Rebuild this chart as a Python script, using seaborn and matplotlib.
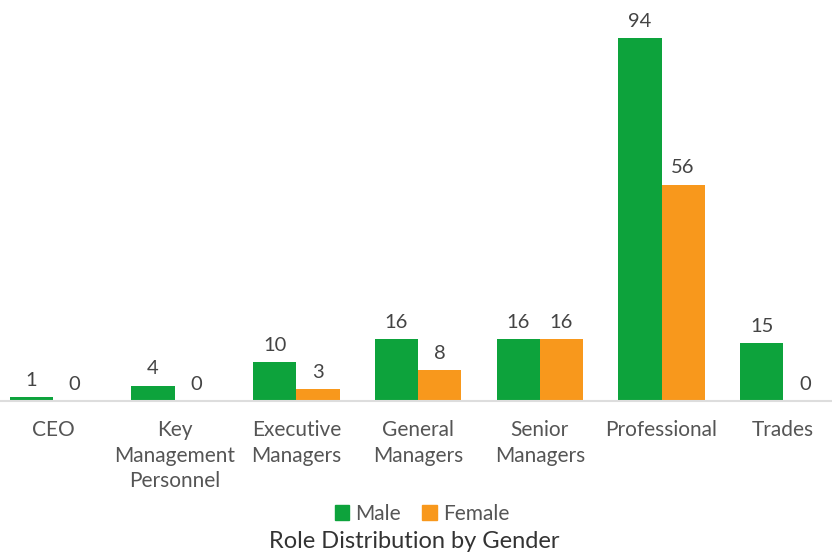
import matplotlib
matplotlib.use("Agg")
import matplotlib.pyplot as plt
import seaborn as sns
import pandas as pd

roles = ["CEO", "Key\nManagement\nPersonnel", "Executive\nManagers", "General\nManagers",
         "Senior\nManagers", "Professional", "Trades"]
male = [1, 4, 10, 16, 16, 94, 15]
female = [0, 0, 3, 8, 16, 56, 0]
genders = ["Male", "Female"]
colors = {"Male": "#0da33c", "Female": "#f8981c"}

df = pd.DataFrame({
    "Role": roles * 2,
    "Count": male + female,
    "Gender": ["Male"] * len(roles) + ["Female"] * len(roles),
})

sns.set_theme(style="white")
plt.rcParams["font.family"] = ["Lato", "DejaVu Sans"]

fig = plt.figure(figsize=(8.32, 5.53), dpi=100)
ax = fig.add_axes([0.0, 1 - 401 / 553, 1.0, (401 - 10) / 553])

sns.barplot(data=df, x="Role", y="Count", hue="Gender", hue_order=genders,
            palette=colors, width=0.71, saturation=1, ax=ax, legend=False)

for container in ax.containers:
    for bar in container:
        bar.set_edgecolor("none")
    ax.bar_label(container, labels=[f"{int(v)}" for v in container.datavalues],
                 padding=6, fontsize=14.5, color="#444444")

ax.set_xlim(-53 / 121.7, (832 - 53) / 121.7)
ax.set_ylim(0, 94 * 391 / 363)
ax.set_xlabel("")
ax.set_ylabel("")
ax.set_yticks([])
ax.tick_params(axis="x", length=0, pad=14, labelsize=15, labelcolor="#555555")
for lbl in ax.get_xticklabels():
    lbl.set_linespacing(1.32)
for s in ["top", "left", "right"]:
    ax.spines[s].set_visible(False)
ax.spines["bottom"].set_color("#dddddd")
ax.spines["bottom"].set_linewidth(1.5)

handles = [plt.Rectangle((0, 0), 1, 1, color=colors[g]) for g in genders]
fig.legend(handles, genders, loc="center", bbox_to_anchor=(422 / 832, 1 - 514 / 553),
           ncol=2, frameon=False, fontsize=15, handlelength=0.7, handleheight=0.7,
           handletextpad=0.3, columnspacing=1.0, labelcolor="#555555")
fig.text(414 / 832, 1 - 541 / 553, "Role Distribution by Gender", ha="center", va="center",
         fontsize=17, color="#333333")

fig.savefig("out.png", dpi=100)
